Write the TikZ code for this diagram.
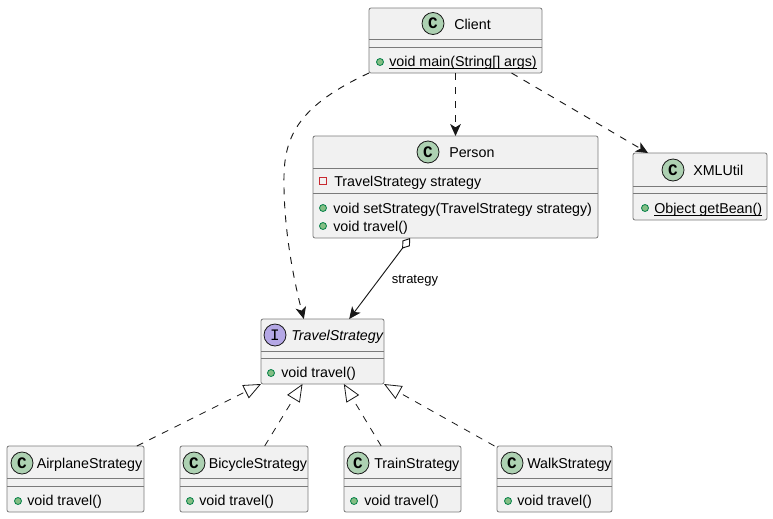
\documentclass[tikz,border=0pt]{standalone}
\usepackage{fontspec}
\setmainfont{Liberation Sans}
\setmonofont{Liberation Mono}
\usetikzlibrary{arrows.meta}

\definecolor{boxfill}{HTML}{F1F1F1}
\definecolor{boxline}{HTML}{7A7A7A}
\definecolor{inkline}{HTML}{181818}
\definecolor{classspot}{HTML}{ADD1B2}
\definecolor{ifacespot}{HTML}{B4A7E5}
\definecolor{pubfill}{HTML}{84BE84}
\definecolor{publine}{HTML}{038048}
\definecolor{privline}{HTML}{C82930}

\pgfmathsetmacro{\px}{.75}

\tikzset{
	classbox/.style={draw=boxline, line width=.6pt, fill=boxfill, rounded corners=1.5pt,
		inner sep=0pt, outer sep=0pt},
	sepline/.style={draw=boxline, line width=.6pt},
	spot/.style={circle, draw=inkline, line width=.6pt, minimum size=22*\px, inner sep=0pt,
		font=\ttfamily\bfseries\fontsize{12}{12}\selectfont},
	title/.style={anchor=base west, inner sep=0pt, font=\fontsize{10.7}{12}\selectfont},
	member/.style={anchor=base west, inner sep=0pt, font=\fontsize{10.7}{12}\selectfont},
	ulined/.style={draw=black, line width=.7pt},
	pubmark/.style={circle, draw=publine, line width=.6pt, fill=pubfill, minimum size=7*\px, inner sep=0pt},
	privmark/.style={rectangle, draw=privline, line width=.6pt, minimum size=7*\px, inner sep=0pt},
	dep/.style={draw=inkline, line width=.7pt, dash pattern=on 5.25pt off 5.25pt,
		-{Stealth[length=9pt,width=8pt,inset=2.5pt]}},
	realize/.style={draw=inkline, line width=.6pt, dash pattern=on 5.25pt off 5.25pt,
		-{Triangle[open,length=13pt,width=11pt,fill=white]}},
}

\begin{document}
\begin{tikzpicture}[x=.75pt,y=-.75pt]
\useasboundingbox (0,0) rectangle (773,518);

% NODES

% Client
\node(client)[classbox, minimum width=173*\px, minimum height=65*\px] at (455.5,40.5) {};
\node(clientSpot)[spot, fill=classspot] at (433,23.5) {C};
\node(clientTitle)[title] at (454,29) {Client};
\node(clientMark)[pubmark] at (380,62) {};
\node(clientMain)[member] at (389,66) {void main(String[] args)};
\draw[ulined] ([yshift=-2pt]clientMain.base west) -- ([yshift=-2pt]clientMain.base east);
\draw[sepline] (client.west |- 0,39) -- (client.east |- 0,39);
\draw[sepline] (client.west |- 0,47) -- (client.east |- 0,47);

% Person
\node(person)[classbox, minimum width=285*\px, minimum height=102*\px] at (455.5,187) {};
\node(personSpot)[spot, fill=classspot] at (428,152) {C};
\node(personTitle)[title] at (449,157) {Person};
\node(personMarkA)[privmark] at (323,181) {};
\node(personField)[member] at (334,186) {TravelStrategy strategy};
\node(personMarkB)[pubmark] at (323,208) {};
\node(personSet)[member] at (333,213) {void setStrategy(TravelStrategy strategy)};
\node(personMarkC)[pubmark] at (323,226) {};
\node(personTravel)[member] at (333,231) {void travel()};
\draw[sepline] (person.west |- 0,168) -- (person.east |- 0,168);
\draw[sepline] (person.west |- 0,193) -- (person.east |- 0,193);

% XMLUtil
\node(xmlutil)[classbox, minimum width=134*\px, minimum height=67*\px] at (700,186.5) {};
\node(xmlutilSpot)[spot, fill=classspot] at (673,170) {C};
\node(xmlutilTitle)[title] at (693,175) {XMLUtil};
\node(xmlutilMark)[pubmark] at (645,208) {};
\node(xmlutilBean)[member] at (654,213) {Object getBean()};
\draw[ulined] ([yshift=-1.6pt]xmlutilBean.base west) -- ([yshift=-1.6pt]xmlutilBean.base east);
\draw[sepline] (xmlutil.west |- 0,186) -- (xmlutil.east |- 0,186);
\draw[sepline] (xmlutil.west |- 0,193) -- (xmlutil.east |- 0,193);

% TravelStrategy
\node(strategy)[classbox, minimum width=123*\px, minimum height=65*\px] at (322.5,351.5) {};
\node(strategySpot)[spot, fill=ifacespot, font=\ttfamily\fontsize{12}{12}\selectfont] at (275,335) {I};
\node(strategyTitle)[title] at (291,340) {\itshape TravelStrategy};
\node(strategyMark)[pubmark] at (271,373) {};
\node(strategyTravel)[member] at (281,377) {void travel()};
\draw[sepline] (strategy.west |- 0,351) -- (strategy.east |- 0,351);
\draw[sepline] (strategy.west |- 0,358) -- (strategy.east |- 0,358);

% AirplaneStrategy
\node(airplane)[classbox, minimum width=137*\px, minimum height=66*\px] at (75.5,479) {};
\node(airplaneSpot)[spot, fill=classspot] at (22,463) {C};
\node(airplaneTitle)[title] at (36.5,468) {AirplaneStrategy};
\node(airplaneMark)[pubmark] at (18,501) {};
\node(airplaneTravel)[member] at (27,505.5) {void travel()};
\draw[sepline] (airplane.west |- 0,478) -- (airplane.east |- 0,478);
\draw[sepline] (airplane.west |- 0,486) -- (airplane.east |- 0,486);

% BicycleStrategy
\node(bicycle)[classbox, minimum width=128*\px, minimum height=66*\px] at (244,479) {};
\node(bicycleSpot)[spot, fill=classspot] at (194,463) {C};
\node(bicycleTitle)[title] at (208.5,468) {BicycleStrategy};
\node(bicycleMark)[pubmark] at (190,501) {};
\node(bicycleTravel)[member] at (199,505.5) {void travel()};
\draw[sepline] (bicycle.west |- 0,478) -- (bicycle.east |- 0,478);
\draw[sepline] (bicycle.west |- 0,486) -- (bicycle.east |- 0,486);

% TrainStrategy
\node(train)[classbox, minimum width=117*\px, minimum height=66*\px] at (402.5,479) {};
\node(trainSpot)[spot, fill=classspot] at (358,463) {C};
\node(trainTitle)[title] at (374,468) {TrainStrategy};
\node(trainMark)[pubmark] at (354,501) {};
\node(trainTravel)[member] at (364,505.5) {void travel()};
\draw[sepline] (train.west |- 0,478) -- (train.east |- 0,478);
\draw[sepline] (train.west |- 0,486) -- (train.east |- 0,486);

% WalkStrategy
\node(walk)[classbox, minimum width=115*\px, minimum height=66*\px] at (554.5,479) {};
\node(walkSpot)[spot, fill=classspot] at (512,463) {C};
\node(walkTitle)[title] at (527,468) {WalkStrategy};
\node(walkMark)[pubmark] at (508,501) {};
\node(walkTravel)[member] at (517,505.5) {void travel()};
\draw[sepline] (walk.west |- 0,478) -- (walk.east |- 0,478);
\draw[sepline] (walk.west |- 0,486) -- (walk.east |- 0,486);

% CONNECTORS

\draw[dep] (client.south) -- (person.north);
\draw[dep] ([xshift=42]client.south) -- ([xshift=-39]xmlutil.north);
\draw[dep] (client.south west) .. controls (300,105) and (285,135) .. (284,175)
	.. controls (283,230) and (295,285) .. ([xshift=-14]strategy.north);
\draw[draw=inkline, line width=.7pt, {Diamond[open,length=10pt,width=7pt,fill=white]}-{Stealth[length=9pt,width=8pt,inset=2.5pt]}]
	([xshift=-34]person.south) -- ([xshift=20]strategy.north)
	node(strategyLabel)[pos=.5, anchor=base west, inner sep=0pt, xshift=8.75, yshift=-4, font=\fontsize{9.75}{11}\selectfont] {strategy};

\draw[realize] ([xshift=46]airplane.north) -- (strategy.south west);
\draw[realize] ([xshift=15.5]bicycle.north) -- ([xshift=-15]strategy.south);
\draw[realize] ([xshift=-16]train.north) -- ([xshift=16]strategy.south);
\draw[realize] ([xshift=-45]walk.north) -- (strategy.south east);

\end{tikzpicture}
\end{document}
